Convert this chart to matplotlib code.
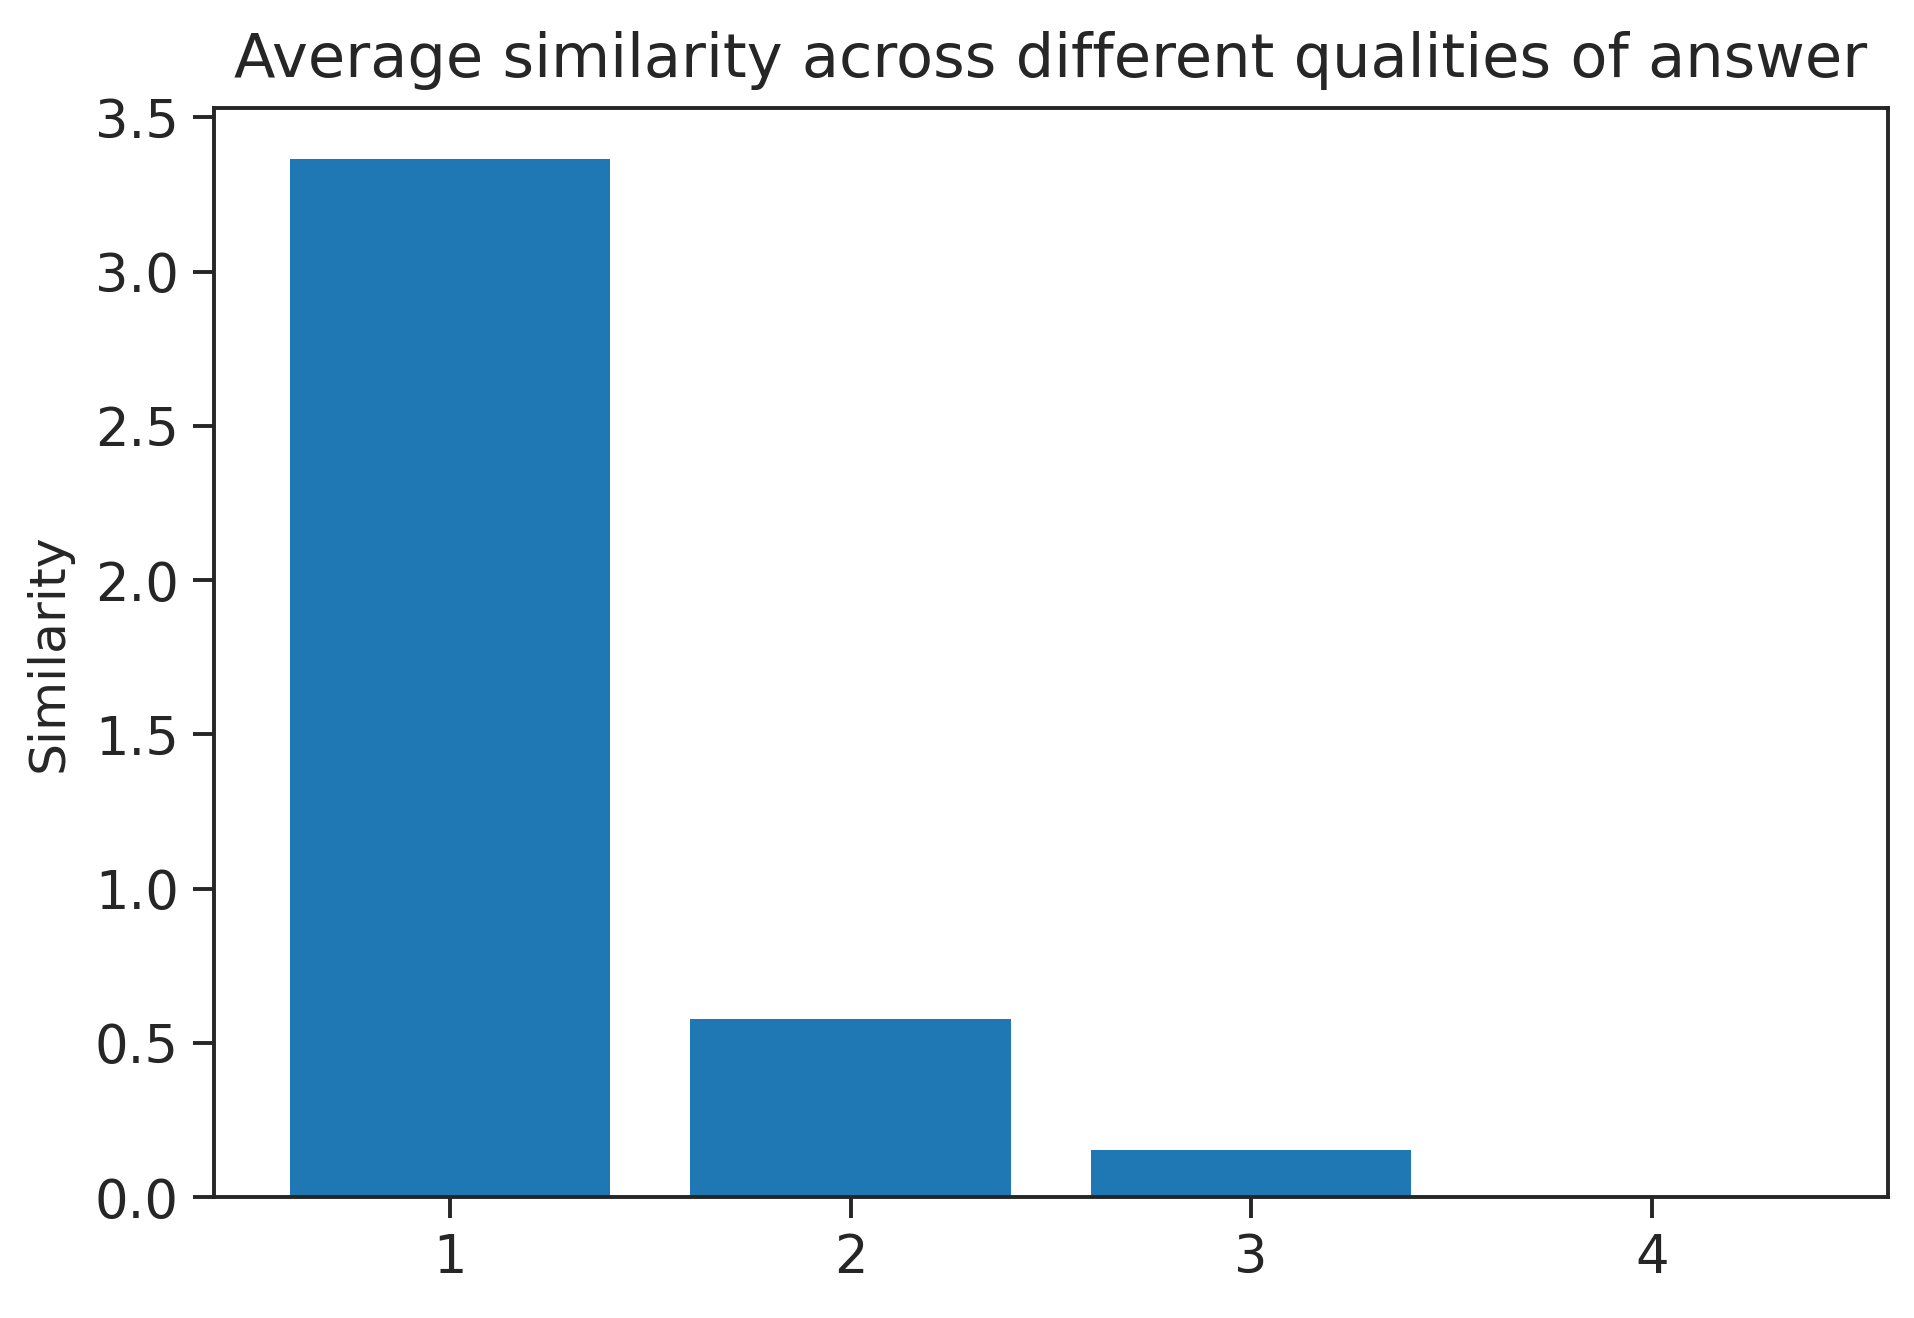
import matplotlib
matplotlib.use("Agg")
import matplotlib.pyplot as plt

categories = [1, 2, 3, 4]
similarity = [3.364, 0.576, 0.153, 0.0]
tick_labels = ["1", "2", "3", "4"]
ytick_values = [0.0, 0.5, 1.0, 1.5, 2.0, 2.5, 3.0, 3.5]

dark = "#262626"
plt.rcParams['font.family'] = ['DejaVu Sans']

fig = plt.figure(figsize=(19.15, 13.18), dpi=100)
ax = fig.add_axes([0.1116, 0.0918, 0.8744, 0.8266])

ax.bar(categories, similarity, width=0.8, color="#1f77b4")
ax.set_xticks(categories)
ax.set_xticklabels(tick_labels)
ax.set_yticks(ytick_values)
ax.set_yticklabels([f"{v:.1f}" for v in ytick_values])

ax.set_title("Average similarity across different qualities of answer",
             fontsize=43.7, color=dark, pad=22)
ax.set_ylabel("Similarity", fontsize=36.3, color=dark, labelpad=16)

for s in ax.spines.values():
    s.set_linewidth(2.8)
    s.set_color(dark)
ax.tick_params(axis="both", which="major", labelsize=38, length=15,
               width=2.8, color=dark, labelcolor=dark, pad=10)

fig.savefig("out.png", dpi=100)
